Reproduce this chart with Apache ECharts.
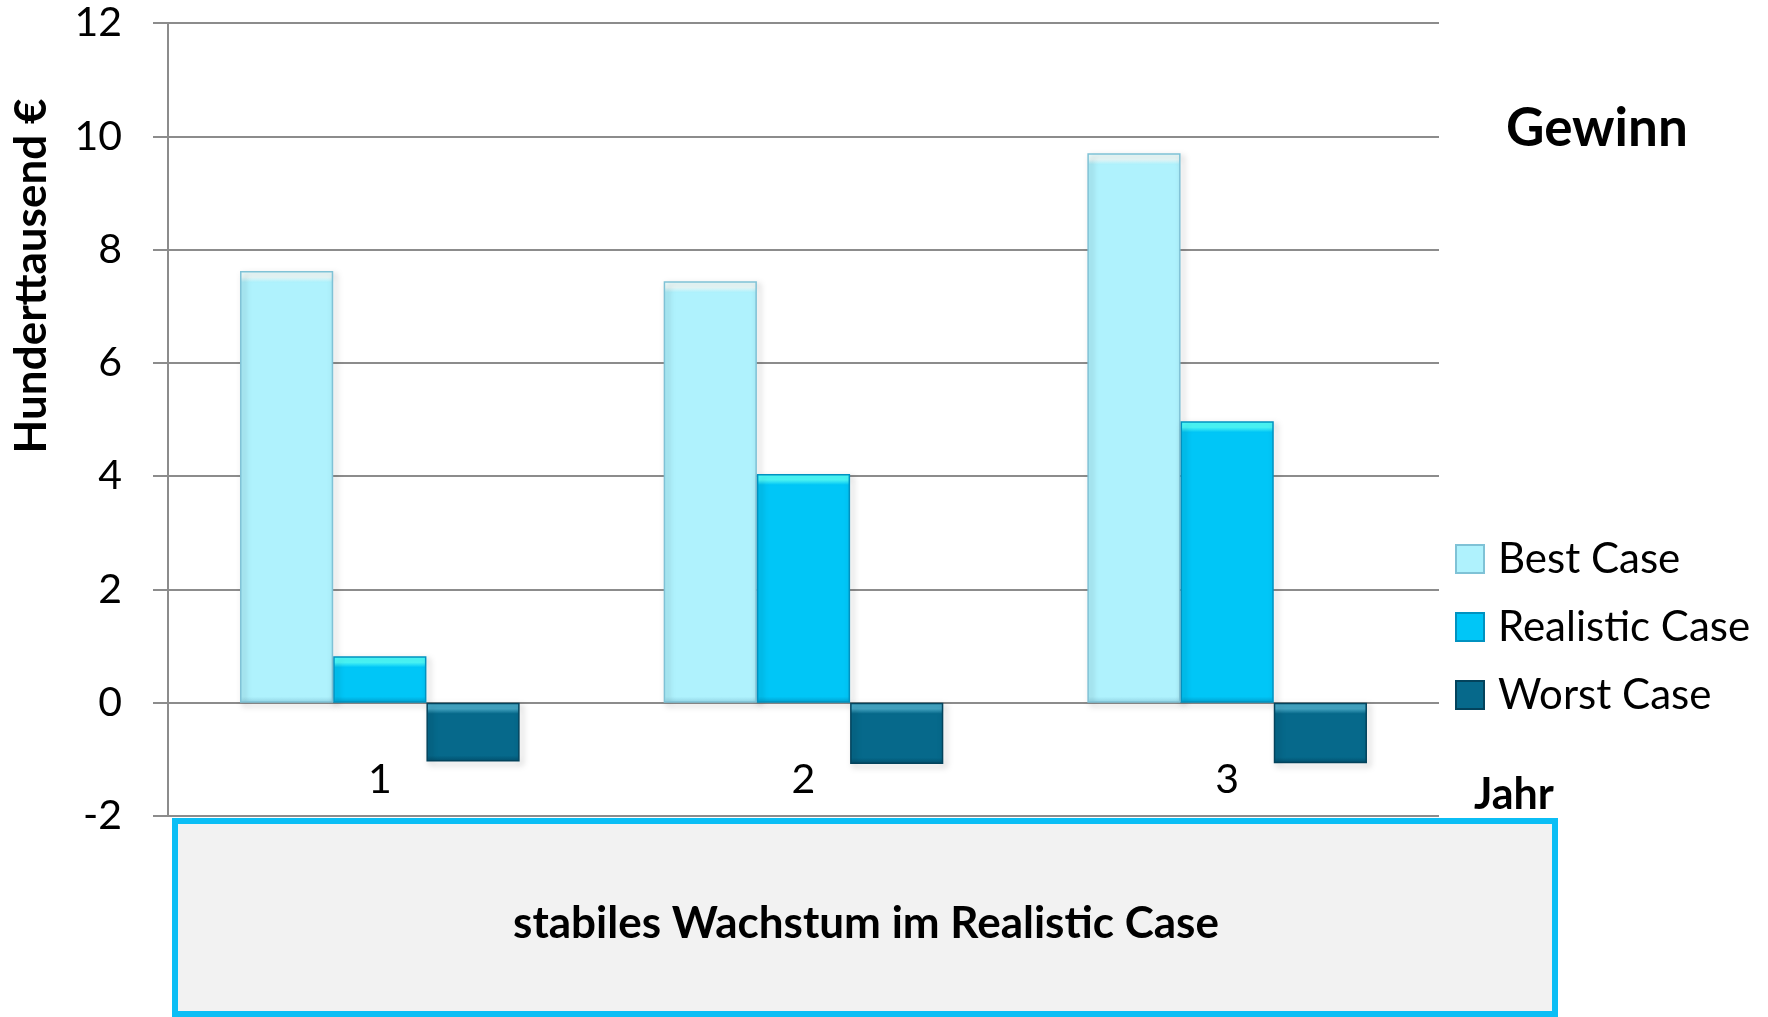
<!DOCTYPE html>
<html><head><meta charset="utf-8">
<script src="https://cdn.jsdelivr.net/npm/echarts@6/dist/echarts.min.js"></script>
<style>html,body{margin:0;padding:0;background:#fff}#c{width:1768px;height:1017px}</style>
</head><body><div id="c"></div>
<script>
const categories = ['1', '2', '3'];
const seriesNames = ['Best Case', 'Realistic Case', 'Worst Case'];
const bestCase = [7.62, 7.44, 9.70];
const realisticCase = [0.82, 4.04, 4.97];
const worstCase = [-1.04, -1.08, -1.07];
const yMin = -2, yMax = 12, yInterval = 2;
const chartTitle = 'Gewinn';
const yAxisName = 'Hunderttausend €';
const xAxisName = 'Jahr';
const noteText = 'stabiles Wachstum im Realistic Case';

const FONT = 'Lato';
const GRID_COLOR = '#8C8C8C';

// palette per series: [top bevel, base, bottom edge, border]
const palette = [
  ['#EEFFFF', '#AFF2FD', '#96D9EA', '#7FC2D6'],
  ['#4DFFFF', '#00C6F7', '#00A3D3', '#0092C0'],
  ['#45A9C8', '#06698B', '#03516F', '#03435C']
];
const values = [bestCase, realisticCase, worstCase];

function fillFor(p, hPx) {
  const h = Math.max(hPx, 1);
  const t = Math.min(0.45, 11 / h);
  const b = Math.min(0.45, 6 / h);
  return new echarts.graphic.LinearGradient(0, 0, 0, 1, [
    {offset: 0, color: p[0]}, {offset: t * 0.55, color: p[0]},
    {offset: t, color: p[1]},
    {offset: 1 - b, color: p[1]}, {offset: 1, color: p[2]}
  ]);
}

const chart = echarts.init(document.getElementById('c'), null, {renderer: 'canvas'});

function buildSeries(heightFn) {
  return seriesNames.map((name, i) => ({
    name: name, type: 'bar',
    data: values[i].map((v) => ({
      value: v,
      itemStyle: {color: fillFor(palette[i], heightFn ? heightFn(v) : 40)}
    })),
    barGap: '0%', barCategoryGap: '34%',
    itemStyle: {
      color: palette[i][1], borderColor: palette[i][3], borderWidth: 1.5,
      shadowColor: 'rgba(0,0,0,0.35)', shadowBlur: 6, shadowOffsetX: 3, shadowOffsetY: 3
    }
  }));
}

chart.setOption({
  animation: false,
  backgroundColor: '#ffffff',
  title: {
    text: chartTitle, left: 1506, top: 102, padding: 0,
    textStyle: {fontFamily: FONT, fontSize: 53, fontWeight: 'bold', color: '#000', lineHeight: 53}
  },
  legend: {
    orient: 'vertical', left: 1455, top: 538, padding: 0,
    itemWidth: 28, itemHeight: 28, itemGap: 26, icon: 'rect',
    data: seriesNames,
    textStyle: {fontFamily: FONT, fontSize: 42, color: '#000', padding: [0, 0, 0, 9]}
  },
  grid: {left: 168, right: 329, top: 23, bottom: 201, containLabel: false, outerBoundsMode: 'none'},
  xAxis: {
    type: 'category', data: categories,
    axisLine: {show: false, onZero: false},
    axisTick: {show: false},
    axisLabel: {fontFamily: FONT, fontSize: 41, color: '#000', inside: true, margin: 16}
  },
  yAxis: {
    type: 'value', min: yMin, max: yMax, interval: yInterval,
    axisLine: {show: true, lineStyle: {color: GRID_COLOR, width: 2}},
    axisTick: {show: true, length: 15, lineStyle: {color: GRID_COLOR, width: 2}},
    axisLabel: {fontFamily: FONT, fontSize: 41, color: '#000', margin: 46},
    splitLine: {show: true, lineStyle: {color: GRID_COLOR, width: 2}}
  },
  series: buildSeries(null),
  graphic: [
    {type: 'rect', z: 10, shape: {x: 175, y: 821, width: 1380, height: 193},
     style: {fill: '#F2F2F2', stroke: '#0BBEF5', lineWidth: 6}},
    {type: 'text', z: 11, x: 866, y: 924,
     style: {text: noteText, fill: '#000', font: 'bold 44px ' + FONT, align: 'center', verticalAlign: 'middle'}},
    {type: 'text', z: 11, x: 32, y: 276, rotation: Math.PI / 2,
     style: {text: yAxisName, fill: '#000', font: 'bold 44px ' + FONT, align: 'center', verticalAlign: 'middle'}},
    {type: 'text', z: 11, x: 1514, y: 795,
     style: {text: xAxisName, fill: '#000', font: 'bold 43px ' + FONT, align: 'center', verticalAlign: 'middle'}}
  ]
});

// bevel stops derived from each bar's pixel height on the value axis
const zeroPx = chart.convertToPixel({yAxisIndex: 0}, 0);
chart.setOption({
  series: buildSeries(v => Math.abs(chart.convertToPixel({yAxisIndex: 0}, v) - zeroPx))
});
</script>
</body></html>
